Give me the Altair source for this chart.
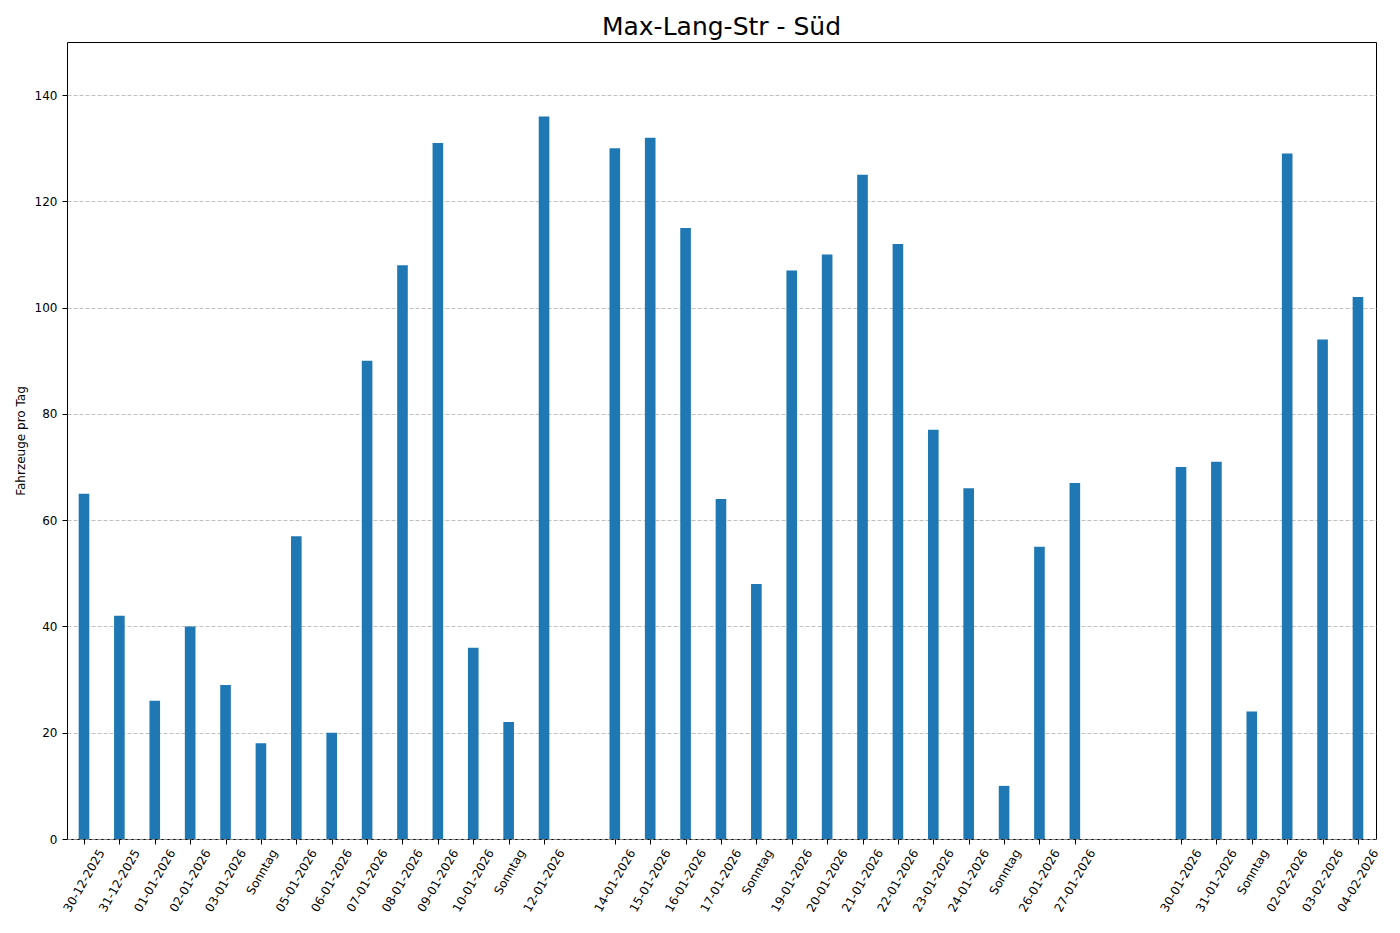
import altair as alt
import pandas as pd

# ---- data ----
dates = [
    "30-12-2025", "31-12-2025", "01-01-2026", "02-01-2026", "03-01-2026",
    "04-01-2026", "05-01-2026", "06-01-2026", "07-01-2026", "08-01-2026",
    "09-01-2026", "10-01-2026", "11-01-2026", "12-01-2026",
    "14-01-2026", "15-01-2026", "16-01-2026", "17-01-2026", "18-01-2026",
    "19-01-2026", "20-01-2026", "21-01-2026", "22-01-2026", "23-01-2026",
    "24-01-2026", "25-01-2026", "26-01-2026", "27-01-2026",
    "30-01-2026", "31-01-2026", "01-02-2026", "02-02-2026", "03-02-2026",
    "04-02-2026",
]
counts = [
    65, 42, 26, 40, 29,
    18, 57, 20, 90, 108,
    131, 36, 22, 136,
    130, 132, 115, 64, 48,
    107, 110, 125, 112, 77,
    66, 10, 55, 67,
    70, 71, 24, 129, 94,
    102,
]
chart_title = "Max-Lang-Str - Süd"
y_title = "Fahrzeuge pro Tag"
sunday_label = "Sonntag"
y_ticks = [0, 20, 40, 60, 80, 100, 120, 140]

# ---- derived table ----
parsed = pd.to_datetime(dates, format="%d-%m-%Y")
start = parsed[0]
day_idx = [int((p - start).days) for p in parsed]
labels = [sunday_label if p.weekday() == 6 else s for p, s in zip(parsed, dates)]
df = pd.DataFrame({"day": day_idx, "count": counts, "label": labels})

n_days = max(day_idx) + 1
label_arr = [""] * n_days
for d, lab in zip(day_idx, labels):
    label_arr[d] = lab
label_expr = "[" + ",".join("'" + s + "'" for s in label_arr) + "][datum.value]"
sundays = [d for d, lab in zip(day_idx, labels) if lab == sunday_label]
sunday_test = "indexof([" + ",".join(str(s) for s in sundays) + "], datum.value) >= 0"

FONT = "DejaVu Sans"
half_w = 0.15

x_scale = alt.Scale(domain=[min(day_idx) - 0.48, max(day_idx) + 0.51], nice=False, zero=False)

bars = alt.Chart(df).transform_calculate(
    x0=f"datum.day - {half_w}", x1=f"datum.day + {half_w}"
).mark_bar(color="#1f77b4").encode(
    x=alt.X(
        "x0:Q",
        scale=x_scale,
        axis=alt.Axis(
            values=day_idx,
            labelExpr=label_expr,
            labelAngle=300,
            labelAlign="right",
            labelBaseline="middle",
            labelOverlap=False,
            labelFlush=False,
            labelBound=False,
            labelOffset={"condition": {"test": sunday_test, "value": 13}, "value": 17},
            labelPadding=6,
            tickSize=5,
            tickColor="black",
            tickWidth=1,
            labelColor="black",
            labelFontSize=12,
            labelFont=FONT,
            grid=False,
            domain=False,
            title=None,
        ),
    ),
    x2="x1:Q",
    y=alt.Y(
        "count:Q",
        scale=alt.Scale(domain=[0, 150], nice=False),
        axis=alt.Axis(
            values=y_ticks,
            grid=True,
            gridColor="#b0b0b0",
            gridDash=[4, 2],
            gridWidth=0.8,
            tickSize=5,
            tickColor="black",
            tickWidth=1,
            labelPadding=5,
            labelColor="black",
            labelFontSize=12,
            labelFont=FONT,
            domain=False,
            title=y_title,
            titleFont=FONT,
            titleFontSize=12,
            titleFontWeight="normal",
            titleColor="black",
            titlePadding=7,
        ),
    ),
    y2=alt.datum(0),
)

chart = bars.properties(
    width=1309,
    height=797,
    title=alt.TitleParams(
        text=chart_title,
        font=FONT,
        fontSize=25,
        fontWeight="normal",
        color="black",
        anchor="middle",
        offset=2,
        frame="group",
    ),
    autosize=alt.AutoSizeParams(type="none"),
    padding={"left": 59, "top": 34, "right": 10, "bottom": 85},
).configure(background="white").configure_view(
    stroke="black", strokeWidth=1
)

chart.save("out.html", embed_options={"renderer": "svg", "actions": False})
